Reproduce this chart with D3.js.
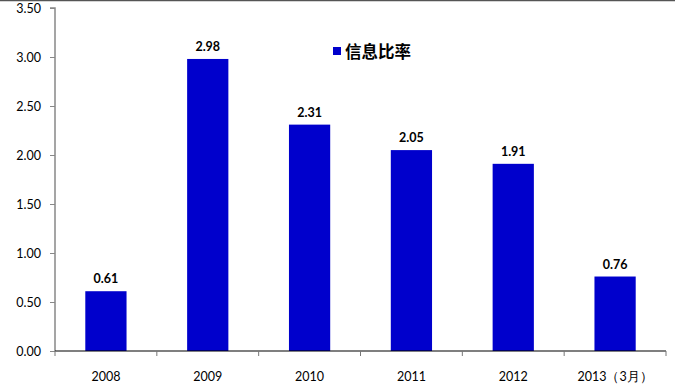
<!DOCTYPE html>
<html><head><meta charset="utf-8">
<script src="https://cdn.jsdelivr.net/npm/d3@7"></script>
<style>body{margin:0;background:#fff}svg{display:block}</style>
</head><body>
<svg id="c" width="675" height="390"></svg>
<script>
const categories = ["2008","2009","2010","2011","2012","2013（3月）"];
const values = [0.61, 2.98, 2.31, 2.05, 1.91, 0.76];
const yTicks = [0,0.5,1,1.5,2,2.5,3,3.5];
const seriesName = "信息比率";

(function(){
const svg = d3.select("#c");
const L = 55, R = 666, T = 8, B = 351;
const x = d3.scaleBand().domain(categories).range([L, R]).paddingInner(0.595).paddingOuter(0.2975);
const y = d3.scaleLinear().domain([0,3.5]).range([B, T]);
const font = "Lato, 'Open Sans', sans-serif";

svg.append("line").attr("x1",0).attr("x2",675).attr("y1",0.5).attr("y2",0.5).attr("stroke","#555").attr("stroke-width",1.5);

svg.selectAll("rect.bar").data(values).enter().append("rect")
  .attr("x",(d,i)=>x(categories[i])).attr("width",x.bandwidth())
  .attr("y",d=>y(d)).attr("height",d=>B-y(d)).attr("fill","#0000CC");

svg.selectAll("text.val").data(values).enter().append("text")
  .attr("x",(d,i)=>x(categories[i])+x.bandwidth()/2).attr("y",d=>y(d)-8)
  .attr("text-anchor","middle").attr("font-family",font).attr("font-weight","bold").attr("font-size",12.5)
  .attr("fill","#000").text(d=>d.toFixed(2));

const ya = svg.append("g").attr("transform",`translate(${L},0)`)
  .call(d3.axisLeft(y).tickValues(yTicks).tickFormat(d3.format(".2f")).tickSize(5).tickPadding(9));
ya.select(".domain").attr("stroke","#888").attr("stroke-width",1.5).attr("d",`M-5,${T}H0V${B}`);
ya.selectAll(".tick line").attr("stroke","#888");
ya.selectAll("text").attr("font-family",font).attr("font-size",12.5).attr("fill","#000");

const boundaries = d3.range(categories.length+1).map(i=>L + i*(R-L)/categories.length);
svg.append("line").attr("x1",L).attr("x2",R).attr("y1",B).attr("y2",B).attr("stroke","#000").attr("stroke-width",1.2);
svg.selectAll("line.xt").data(boundaries).enter().append("line")
  .attr("x1",d=>d).attr("x2",d=>d).attr("y1",B).attr("y2",B+5).attr("stroke","#777");
svg.selectAll("text.xl").data(categories).enter().append("text")
  .attr("x",d=>x(d)+x.bandwidth()/2).attr("y",381).attr("text-anchor","middle")
  .attr("font-family",font).attr("font-size",12.5).attr("fill","#000").text(d=>d);

svg.append("rect").attr("x",333).attr("y",47).attr("width",8).attr("height",8).attr("fill","#0000CC");
svg.append("text").attr("x",345).attr("y",58).attr("font-family","'Noto Sans CJK SC', sans-serif")
  .attr("font-weight","bold").attr("font-size",16.5).attr("fill","#000").text(seriesName);
})();
</script>
</body></html>
